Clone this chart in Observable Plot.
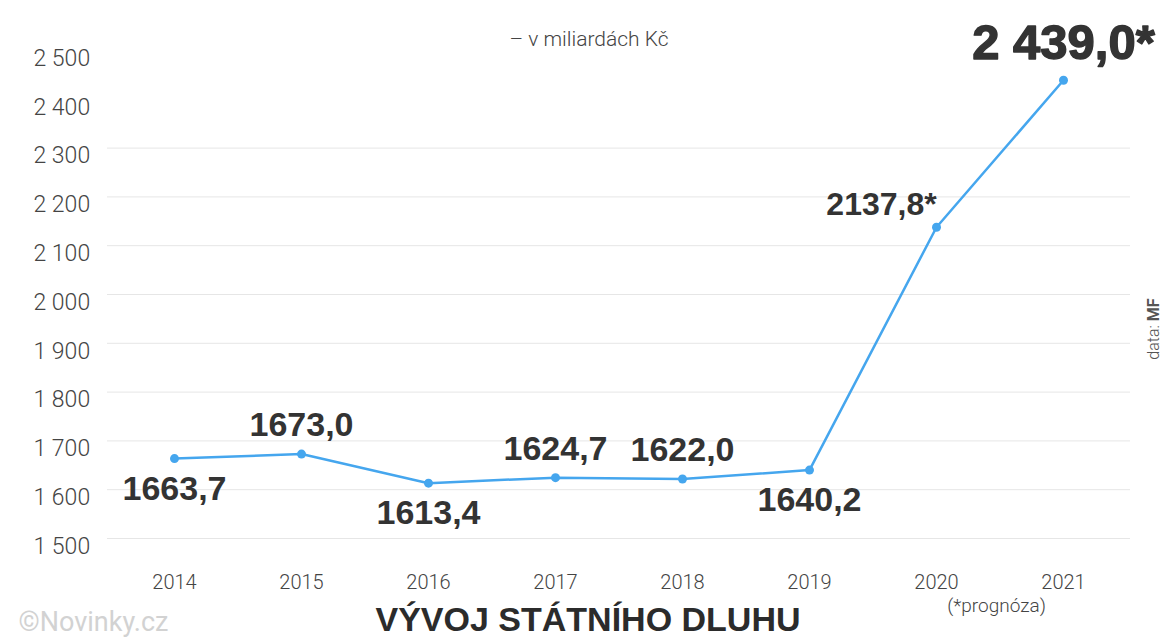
<!DOCTYPE html>
<html>
<head>
<meta charset="utf-8">
<script src="https://cdn.jsdelivr.net/npm/d3@7"></script>
<script src="https://cdn.jsdelivr.net/npm/@observablehq/plot@0.6"></script>
<style>
  html, body { margin: 0; padding: 0; background: #fff; }
  #chart { width: 1162px; height: 643px; overflow: hidden; }
</style>
</head>
<body>
<div id="chart"></div>
<script>
// ---- data ----
const years = ["2014", "2015", "2016", "2017", "2018", "2019", "2020", "2021"];
const debt = [1663.7, 1673.0, 1613.4, 1624.7, 1622.0, 1640.2, 2137.8, 2439.0];
const valueLabels = ["1663,7", "1673,0", "1613,4", "1624,7", "1622,0", "1640,2", "2137,8*", "2 439,0*"];
const yTicks = [1500, 1600, 1700, 1800, 1900, 2000, 2100, 2200, 2300, 2400, 2500];
const gridValues = [1500, 1600, 1700, 1800, 1900, 2000, 2100, 2200, 2300];
const title = "VÝVOJ STÁTNÍHO DLUHU";
const subtitle = "– v miliardách Kč";
const forecastNote = "(*prognóza)";
const watermark = "©Novinky.cz";

const table = years.map((year, i) => ({year, debt: debt[i], label: valueLabels[i]}));
const belowYears = new Set(["2014", "2016", "2019"]);
const aboveYears = new Set(["2015", "2017", "2018"]);

const czFormat = d3.formatLocale({decimal: ",", thousands: " ", grouping: [3], currency: ["", ""]}).format(",");

const labelFont = "'Liberation Sans', Arial, sans-serif";
const axisFont = "Roboto, 'Open Sans', sans-serif";
const blue = "#45a6ee";

const plot = Plot.plot({
  width: 1162,
  height: 643,
  marginTop: 50,
  marginBottom: 105,
  marginLeft: 107,
  marginRight: 32,
  style: {fontFamily: axisFont, background: "#fff", overflow: "visible"},
  x: {type: "point", domain: years, padding: 0.5, label: null},
  y: {domain: [1500, 2500], label: null},
  marks: [
    Plot.ruleY(gridValues, {stroke: "#e6e6e6", strokeWidth: 1}),
    Plot.axisY({
      ticks: yTicks, tickSize: 0, tickPadding: 74, textAnchor: "start", dy: 8, label: null,
      tickFormat: czFormat, fontSize: 23, fontWeight: 300, fill: "#444", fontFamily: axisFont
    }),
    Plot.axisX({
      tickSize: 0, tickPadding: 36, label: null, fontSize: 20, fontWeight: 300, fill: "#444", fontFamily: axisFont
    }),
    Plot.line(table, {x: "year", y: "debt", stroke: blue, strokeWidth: 2.5}),
    Plot.dot(table, {x: "year", y: "debt", r: 4.5, fill: blue}),
    Plot.text(table, {
      filter: d => belowYears.has(d.year), x: "year", y: "debt", text: "label", dy: 30,
      fontSize: 34, fontWeight: "bold", fill: "#333", fontFamily: labelFont
    }),
    Plot.text(table, {
      filter: d => aboveYears.has(d.year), x: "year", y: "debt", text: "label", dy: -29,
      fontSize: 34, fontWeight: "bold", fill: "#333", fontFamily: labelFont
    }),
    Plot.text(table, {
      filter: d => d.year === "2020", x: "year", y: "debt", text: "label", dx: -55, dy: -23,
      fontSize: 32, fontWeight: "bold", fill: "#333", fontFamily: labelFont
    }),
    Plot.text(table, {
      filter: d => d.year === "2021", x: "year", y: "debt", text: "label", dy: -37,
      fontSize: 49, fontWeight: "bold", fill: "#333", stroke: "#333", strokeWidth: 1.4, fontFamily: labelFont
    }),
    Plot.text([subtitle], {
      frameAnchor: "top", dx: -30, dy: -19, fontSize: 21, fontWeight: 300, fill: "#444", fontFamily: axisFont
    }),
    Plot.text([forecastNote], {
      frameAnchor: "bottom-right", dx: -134, dy: 73, textAnchor: "middle",
      fontSize: 19, fontWeight: 300, fill: "#444", fontFamily: axisFont
    }),
    Plot.text([title], {
      frameAnchor: "bottom", dx: -31, dy: 92, fontSize: 34, fontWeight: "bold", fill: "#2b2b2b", fontFamily: labelFont
    }),
    Plot.text([watermark], {
      frameAnchor: "bottom-left", dx: -89, dy: 92, textAnchor: "start",
      fontSize: 27, fill: "#d2d2d2", fontFamily: axisFont
    })
  ]
});

document.getElementById("chart").appendChild(plot);

// rotated source note with mixed weights
const svg = d3.select(plot);
const src = svg.append("text")
  .attr("transform", "translate(1159,329) rotate(-90)")
  .attr("text-anchor", "middle")
  .attr("font-family", axisFont)
  .attr("font-size", 16)
  .attr("fill", "#555");
src.append("tspan").attr("font-weight", 300).text("data: ");
src.append("tspan").attr("font-weight", "bold").text("MF");
</script>
</body>
</html>
